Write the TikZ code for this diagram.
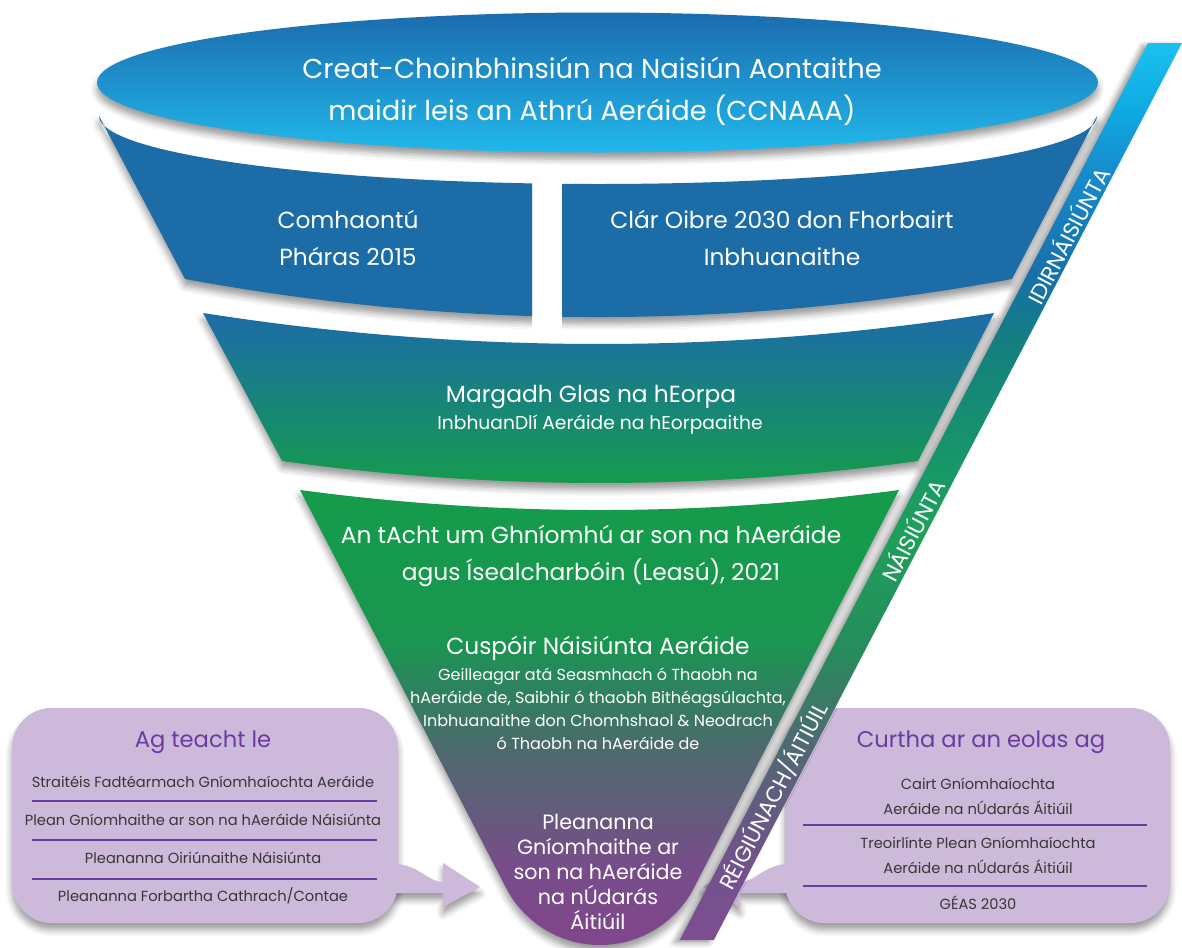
\documentclass[tikz,border=0pt]{standalone}
\usepackage{fontspec}
\setmainfont{Poppins}
\usetikzlibrary{shadows.blur}
\definecolor{lidtop}{RGB}{27,108,174}
\definecolor{lidbot}{RGB}{33,184,235}
\definecolor{tierblue}{RGB}{28,108,168}
\definecolor{tiergreen}{RGB}{20,157,74}
\definecolor{boxfill}{RGB}{205,185,217}
\definecolor{headpurple}{RGB}{106,60,160}
\definecolor{itemtext}{RGB}{55,55,55}
% funnel stops
\definecolor{fA}{RGB}{128,70,140}
\definecolor{fB}{RGB}{120,76,138}
\definecolor{fC}{RGB}{96,94,122}
\definecolor{fD}{RGB}{75,107,108}
\definecolor{fE}{RGB}{45,130,95}
\definecolor{fF}{RGB}{26,150,80}
\definecolor{fG}{RGB}{20,156,74}
% band stops
\definecolor{bA}{RGB}{125,77,145}
\definecolor{bB}{RGB}{115,82,140}
\definecolor{bC}{RGB}{98,92,128}
\definecolor{bD}{RGB}{80,104,115}
\definecolor{bE}{RGB}{38,140,92}
\definecolor{bF}{RGB}{30,160,92}
\definecolor{bG}{RGB}{22,145,110}
\definecolor{bH}{RGB}{20,125,130}
\definecolor{bI}{RGB}{23,112,172}
\definecolor{bJ}{RGB}{24,140,205}
\definecolor{bK}{RGB}{15,170,225}
\definecolor{bL}{RGB}{28,192,240}
\pgfdeclareverticalshading{funnelshade}{100bp}{color(0bp)=(fA); color(25bp)=(fA); color(33.2bp)=(fB); color(40.9bp)=(fC); color(47bp)=(fD); color(53bp)=(fE); color(58.5bp)=(fF); color(75bp)=(fG); color(100bp)=(fG)}
\pgfdeclareverticalshading{bandshade}{100bp}{color(0bp)=(bA); color(25bp)=(bA); color(28.9bp)=(bB); color(32.8bp)=(bC); color(35.6bp)=(bD); color(41.2bp)=(bE); color(47.9bp)=(bF); color(53.4bp)=(bG); color(58.7bp)=(bH); color(62.3bp)=(bI); color(67.9bp)=(bJ); color(71.3bp)=(bK); color(75bp)=(bL); color(100bp)=(bL)}
\begin{document}
\begin{tikzpicture}[x=0.75pt,y=-0.75pt,
  shad/.style={blur shadow={shadow xshift=0pt, shadow yshift=-5pt, shadow blur radius=5pt, shadow opacity=40}},
  bshad/.style={blur shadow={shadow xshift=-4pt, shadow yshift=-2pt, shadow blur radius=4pt, shadow opacity=40}},
  wt/.style={text=white, align=center, inner sep=0pt},
  ttl/.style={wt, font=\fontsize{20.5}{31.5}\selectfont},
  big/.style={wt, font=\fontsize{17.5}{27.5}\selectfont},
  mid/.style={wt, font=\fontsize{17.5}{20}\selectfont},
  sml/.style={wt, font=\fontsize{12}{17.25}\selectfont},
  sub/.style={wt, font=\fontsize{14}{17}\selectfont},
  bot/.style={wt, font=\fontsize{15.5}{18.75}\selectfont},
  bandlbl/.style={wt, font=\fontsize{16.5}{18}\selectfont, rotate=62.4},
  boxshape/.style={fill=boxfill, rounded corners=30pt},
  head/.style={text=headpurple, align=center, inner sep=0pt, font=\fontsize{17}{20}\selectfont},
  item/.style={text=itemtext, align=center, inner sep=0pt, font=\fontsize{11}{18.75}\selectfont},
  sep/.style={draw=headpurple, line width=0.9pt}
]
\useasboundingbox (0,0) rectangle (1182,947);

% top lid
\shade[top color=lidtop, bottom color=lidbot, shad] (597.5,82.5) ellipse [x radius=500.5, y radius=70];

% tier 1 (split in two)
\def\tierone{(99,116) .. controls (99,153.6) and (322.4,184) .. (598,184) .. controls (873.6,184) and (1097,153.6) .. (1097,116) -- (1012,279) .. controls (736.3,329.7) and (460.7,329.7) .. (185,279) -- cycle}
\begin{scope}
  \clip (0,100) rectangle (532,360);
  \fill[tierblue, shad] \tierone;
\end{scope}
\begin{scope}
  \clip (562,100) rectangle (1182,360);
  \fill[tierblue, shad] \tierone;
\end{scope}

% tier 2
\shade[top color=tierblue, bottom color=tiergreen, shad] (203,313) .. controls (466.7,354.3) and (730.3,354.3) .. (994,313) -- (918,461) .. controls (706,490.3) and (494,490.3) .. (282,461) -- cycle;

% tier 3 funnel
\shade[shading=funnelshade, shad] (300,490) .. controls (499.7,516.7) and (699.3,516.7) .. (899,490) -- (694.2,887.4) .. controls (676.1,922.7) and (639.7,945) .. (600,945) .. controls (560.3,945) and (523.9,922.7) .. (505.8,887.4) -- cycle;

% texts in funnel
\node[ttl] (unfccc) at (592,91) {Creat-Choinbhinsiún na Naisiún Aontaithe\\maidir leis an Athrú Aeráide (CCNAAA)};
\node[big] (paris) at (348,238) {Comhaontú\\Pháras 2015};
\node[big] (agenda) at (782,238) {Clár Oibre 2030 don Fhorbairt\\Inbhuanaithe};
\node[mid] (green) at (591,397) {Margadh Glas na hEorpa};
\node[sub] (eulaw) at (600,425) {InbhuanDlí Aeráide na hEorpaaithe};
\node[big] (act) at (591,556) {An tAcht um Ghníomhú ar son na hAeráide\\agus Ísealcharbóin (Leasú), 2021};
\node[big] (obj) at (598,648) {Cuspóir Náisiúnta Aeráide};
\node[sml] (objtxt) at (598,709) {Geilleagar atá Seasmhach ó Thaobh na\\hAeráide de, Saibhir ó thaobh Bithéagsúlachta,\\Inbhuanaithe don Chomhshaol \& Neodrach\\ó Thaobh na hAeráide de};
\node[bot] (lap) at (598,872) {Pleananna\\Gníomhaithe ar\\son na hAeráide\\na nÚdarás\\Áitiúil};

% left box with arrow
\fill[boxshape, shad] (12,708) rectangle (398,923);
\fill[boxfill, shad] (385,862) -- (397,864) .. controls (420,866) and (428,882) .. (443,882) -- (443,863) -- (480,887) -- (443,907) -- (443,893) -- (385,893) -- cycle;
\fill[boxshape] (12,708) rectangle (398,923);
\node[head] (lhead) at (203,742) {Ag teacht le};
\node[item] (l1) at (203,782) {Straitéis Fadtéarmach Gníomhaíochta Aeráide};
\node[item] (l2) at (203,820) {Plean Gníomhaithe ar son na hAeráide Náisiúnta};
\node[item] (l3) at (203,858) {Pleananna Oiriúnaithe Náisiúnta};
\node[item] (l4) at (203,896) {Pleananna Forbartha Cathrach/Contae};
\draw[sep] (32,801) -- (377,801);
\draw[sep] (32,840) -- (377,840);
\draw[sep] (32,879) -- (377,879);

% right box with arrow
\fill[boxshape, shad] (785,708) rectangle (1170,923);
\fill[boxfill, shad] (798,862) -- (786,864) .. controls (763,866) and (755,882) .. (740,882) -- (740,863) -- (703,887) -- (740,907) -- (740,893) -- (798,893) -- cycle;
\fill[boxshape] (785,708) rectangle (1170,923);
\node[head] (rhead) at (981,742) {Curtha ar an eolas ag};
\node[item] (r1) at (978,796) {Cairt Gníomhaíochta\\Aeráide na nÚdarás Áitiúil};
\node[item] (r2) at (978,855) {Treoirlínte Plean Gníomhaíochta\\Aeráide na nÚdarás Áitiúil};
\node[item] (r3) at (978,903) {GÉAS 2030};
\draw[sep] (803,825) -- (1147,825);
\draw[sep] (803,886) -- (1147,886);

% diagonal band
\shade[shading=bandshade, bshad] (1148,43) -- (1182,43) -- (713.8,940) -- (679.8,940) -- cycle;
\node[bandlbl] (intl) at (1067,235) {IDIRNÁISIÚNTA};
\node[bandlbl] (natl) at (912,530) {NÁISIÚNTA};
\node[bandlbl] (locl) at (773,796) {RÉIGIÚNACH/ÁITIÚIL};
\end{tikzpicture}
\end{document}
